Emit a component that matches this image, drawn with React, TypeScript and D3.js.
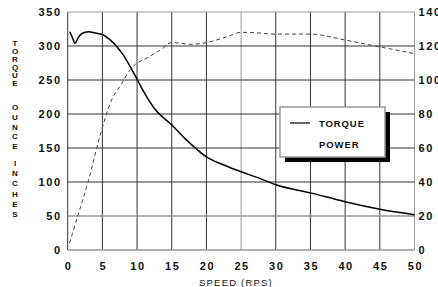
import React, { useEffect, useRef } from 'react';
import * as d3 from 'd3';

// torque curve (oz-in) vs speed (rps)
const torqueSpeed = [0.3, 0.7, 1.05, 1.5, 2, 3, 4, 5, 6, 7, 8, 9, 10, 11, 12.5, 15, 17, 20, 22.5, 25, 27.5, 30, 35, 40, 45, 50];
const torqueVals = [321, 312, 304, 312, 318, 321, 319, 317, 310, 300, 287, 270, 251, 232, 208, 184, 163, 137, 125, 115, 106, 96, 84, 71, 60, 52];

// power curve (right axis) vs speed
const powerSpeed = [0.25, 1.15, 3, 4.65, 6.3, 7.8, 9, 11.9, 13.5, 15, 18, 20, 23, 25, 26, 30, 35, 40, 45, 50];
const powerVals = [4, 16, 41, 67, 88, 98, 106, 114, 118, 122, 121, 122, 125.5, 128, 128, 127, 127, 123.5, 119.5, 115.5];

const xTicks = [0, 5, 10, 15, 20, 25, 30, 35, 40, 45, 50];
const leftTicks = [0, 50, 100, 150, 200, 250, 300, 350];
const rightTicks = [0, 20, 40, 60, 80, 100, 120, 140];
const titleWords = ['TORQUE', 'OUNCE', 'INCHES'];
const legendItems = ['TORQUE', 'POWER'];

const W = 438;
const H = 287;
const FONT = "'Liberation Sans', Arial, sans-serif";

export default function App() {
	const ref = useRef<SVGSVGElement>(null);

	useEffect(() => {
		const svg = d3.select(ref.current);
		svg.selectAll('*').remove();

		const left = 67.7;
		const right = 414.5;
		const top = 12;
		const bottom = 250;

		const x = d3.scaleLinear().domain([0, 50]).range([left, right]);
		const yL = d3.scaleLinear().domain([0, 350]).range([bottom, top]);
		const yR = d3.scaleLinear().domain([0, 140]).range([bottom, top]);

		svg.append('rect').attr('width', W).attr('height', H).attr('fill', '#fff');

		// grid
		const grid = svg.append('g');
		grid.selectAll('line.v')
			.data(xTicks)
			.join('line')
			.attr('x1', (d) => x(d))
			.attr('x2', (d) => x(d))
			.attr('y1', top)
			.attr('y2', bottom)
			.attr('stroke', (d) => (d === 25 || d === 50 ? '#999' : '#333'))
			.attr('stroke-width', 1);
		grid.selectAll('line.h')
			.data(leftTicks)
			.join('line')
			.attr('x1', left)
			.attr('x2', right)
			.attr('y1', (d) => yL(d))
			.attr('y2', (d) => yL(d))
			.attr('stroke', (d) => (d === 0 || d === 50 || d === 350 ? '#999' : '#333'))
			.attr('stroke-width', (d) => (d === 0 || d === 50 ? 1.5 : 1));

		// left tick labels
		svg.append('g')
			.selectAll('text')
			.data(leftTicks)
			.join('text')
			.attr('x', left - 6)
			.attr('y', (d) => yL(d) + 4)
			.attr('text-anchor', 'end')
			.attr('font-family', FONT)
			.attr('font-weight', 'bold')
			.attr('font-size', 11)
			.attr('letter-spacing', 1.6)
			.attr('fill', '#111')
			.text((d) => d);

		// right tick labels (cut by the window edge, as in the scan)
		svg.append('g')
			.selectAll('text')
			.data(rightTicks)
			.join('text')
			.attr('x', right + 4)
			.attr('y', (d) => yR(d) + 4)
			.attr('font-family', FONT)
			.attr('font-weight', 'bold')
			.attr('font-size', 11)
			.attr('letter-spacing', 1.6)
			.attr('fill', '#111')
			.text((d) => d);

		// bottom tick labels
		svg.append('g')
			.selectAll('text')
			.data(xTicks)
			.join('text')
			.attr('x', (d) => x(d) + 1)
			.attr('y', 269.5)
			.attr('text-anchor', 'middle')
			.attr('font-family', FONT)
			.attr('font-weight', 'bold')
			.attr('font-size', 11)
			.attr('letter-spacing', 1.6)
			.attr('fill', '#111')
			.text((d) => d);

		svg.append('text')
			.attr('x', 236)
			.attr('y', 286)
			.attr('text-anchor', 'middle')
			.attr('font-family', FONT)
			.attr('font-size', 9.5)
			.attr('letter-spacing', 1.2)
			.attr('fill', '#111')
			.text('SPEED (RPS)');

		// stacked vertical title
		const starts = [42.7, 107, 163];
		const steps = [8.1, 9.8, 10.2];
		titleWords.forEach((w, wi) => {
			svg.append('g')
				.selectAll('text')
				.data(w.split(''))
				.join('text')
				.attr('x', 15)
				.attr('y', (_, i) => starts[wi] + i * steps[wi] + 3)
				.attr('text-anchor', 'middle')
				.attr('font-family', FONT)
				.attr('font-weight', 'bold')
				.attr('font-size', 8)
				.attr('fill', '#111')
				.text((c) => c);
		});

		// power curve
		const powerData = powerSpeed.map((s, i) => [s, powerVals[i]] as [number, number]);
		svg.append('path')
			.datum(powerData)
			.attr('fill', 'none')
			.attr('stroke', '#444')
			.attr('stroke-width', 1)
			.attr('stroke-dasharray', '4 3')
			.attr(
				'd',
				d3.line<[number, number]>()
					.x((d) => x(d[0]))
					.y((d) => yR(d[1]))
					.curve(d3.curveMonotoneX)
			);

		// torque curve
		const torqueData = torqueSpeed.map((s, i) => [s, torqueVals[i]] as [number, number]);
		svg.append('path')
			.datum(torqueData)
			.attr('fill', 'none')
			.attr('stroke', '#000')
			.attr('stroke-width', 1.5)
			.attr(
				'd',
				d3.line<[number, number]>()
					.x((d) => x(d[0]))
					.y((d) => yL(d[1]))
					.curve(d3.curveMonotoneX)
			);

		// legend
		const lg = svg.append('g').attr('transform', 'translate(280,107)');
		lg.append('rect').attr('x', 5).attr('y', 5).attr('width', 105).attr('height', 50).attr('fill', '#000');
		lg.append('rect')
			.attr('width', 105)
			.attr('height', 50)
			.attr('fill', '#fff')
			.attr('stroke', '#999')
			.attr('stroke-width', 1.5);
		lg.append('line').attr('x1', 10).attr('x2', 30).attr('y1', 16).attr('y2', 16).attr('stroke', '#000').attr('stroke-width', 1.2);
		lg.selectAll('text.item')
			.data(legendItems)
			.join('text')
			.attr('x', 39)
			.attr('y', (_, i) => 19.5 + i * 21.5)
			.attr('font-family', FONT)
			.attr('font-weight', 'bold')
			.attr('font-size', 9.5)
			.attr('letter-spacing', 0.9)
			.attr('fill', '#111')
			.text((d) => d);
	}, []);

	return (
		<svg
			ref={ref}
			width={W}
			height={H}
			style={{ position: 'absolute', left: 0, top: 0, display: 'block' }}
		/>
	);
}
